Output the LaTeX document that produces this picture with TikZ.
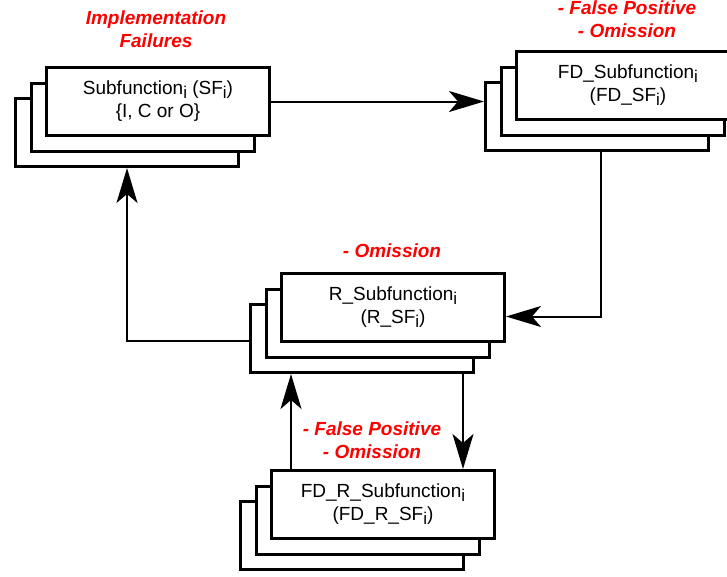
\documentclass[tikz,border=0pt]{standalone}
\usepackage{fontspec}
\setmainfont{Liberation Sans}
\usetikzlibrary{arrows.meta}

% lowered index letter
\newcommand\subi{\raisebox{-3.2pt}{\fontsize{17}{17}\selectfont i}}

% three stacked boxes: name, top-left x, top-left y, text
\newcommand\stackbox[4]{%
  \node[layer] (#1-back) at (#2-31,#3+31) {};
  \node[layer] (#1-mid) at (#2-15.5,#3+15.5) {};
  \node[layer, lbl] (#1) at (#2,#3) {#4};
}

\begin{document}
\begin{tikzpicture}[x=1pt, y=-1pt,
  layer/.style={draw, line width=3pt, fill=white, minimum width=223pt,
    minimum height=68pt, anchor=north west, inner sep=0pt},
  lbl/.style={text=black, font=\fontsize{19}{23}\selectfont, align=center},
  fail/.style={text=red, font=\fontsize{19}{23}\selectfont\bfseries\itshape,
    align=center, anchor=base, inner sep=0pt},
  link/.style={line width=2pt},
  tip/.style={-{Stealth[length=35pt, width=21pt, inset=9pt]}}
]
\useasboundingbox (0,0) rectangle (727,576);

% blocks
\stackbox{sf}{45}{66}{Subfunction\subi{} (SF\subi)\\\{I, C or O\}}
\stackbox{fd}{515}{50}{FD\_Subfunction\subi\\(FD\_SF\subi)}
\stackbox{r}{280}{272}{R\_Subfunction\subi\\(R\_SF\subi)}
\stackbox{fdr}{270}{469}{FD\_R\_Subfunction\subi\\(FD\_R\_SF\subi)}

% failure annotations (anchored on the last line's baseline)
\node[fail] (impl) at (156,47) {Implementation\\Failures};
\node[fail] (fdfail) at (627,37) {- False Positive\\- Omission};
\node[fail] (rfail) at (392,257) {- Omission};
\node[fail] (fdrfail) at (372,458) {- False Positive\\- Omission};

% connectors
\draw[link, tip] (sf.east) -- (fd-back.west |- sf.east);
\draw[link, tip] ([xshift=3.5pt]fd-back.south) |- ([yshift=-9pt]r.east);
\draw[link, tip] ([yshift=-2pt]r-back.west) -| (sf-back.south);
\coordinate (rdown) at ([xshift=-12pt]r-back.south east);
\draw[link, tip] (rdown) -- (rdown |- fdr.north);
\coordinate (rup) at ([xshift=21pt]fdr.north west);
\draw[link, tip] (rup) -- (rup |- r-back.south);
\end{tikzpicture}
\end{document}
